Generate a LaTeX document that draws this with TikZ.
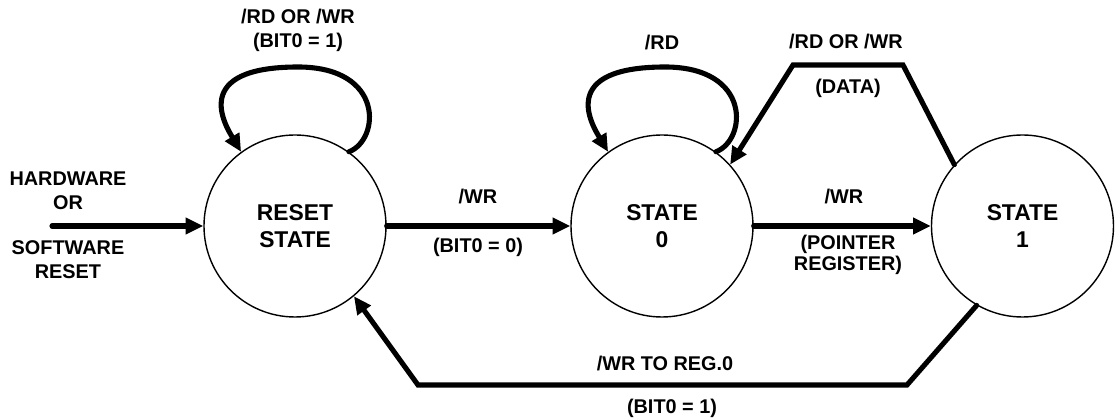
\documentclass[tikz,border=0pt]{standalone}
\usepackage{fontspec}
\setmainfont{Liberation Sans}
\usetikzlibrary{arrows.meta}

\begin{document}
\begin{tikzpicture}[
    state/.style={draw,circle,line width=0.8pt,minimum size=3.64cm,inner sep=0pt,align=center,font=\fontsize{13}{15.5}\selectfont\bfseries},
    lbl/.style={align=center,inner sep=0pt,font=\fontsize{11.3}{13.6}\selectfont\bfseries},
    arrow/.style={-{Triangle[length=10pt,width=9pt]},line width=2.9pt,line cap=round},
    wire/.style={line width=2.9pt,line cap=round}
]
    \useasboundingbox (0,0) rectangle (22.3,8.4);
    % States
    \node[state] (reset) at (5.9,3.88) {RESET\\STATE};
    \node[state] (zero) at (13.24,3.88) {STATE\\0};
    \node[state] (one) at (20.45,3.88) {STATE\\1};
    % Corners of the long connectors
    \coordinate (hwstart) at (1.04,3.88);
    \coordinate (dtr) at (18.06,7.1);
    \coordinate (dtl) at (15.86,7.1);
    \coordinate (brr) at (18.14,0.7);
    \coordinate (brl) at (8.36,0.7);
    % Arrows
    \draw[arrow] (hwstart) -- (reset);
    \draw[arrow] (reset.east) -- (zero.west);
    \draw[arrow] (zero.east) -- (one.west);
    \draw[arrow] (one.138) -- (dtr) -- (dtl) -- (zero.42);
    \draw[arrow] (one.-120) -- (brr) -- (brl) -- (reset.-50);
    % Self loops
    \draw[arrow] (reset.54) .. controls (7.6,5.6) and (7.7,7.06) .. (5.96,7.06)
        .. controls (3.8,7.06) and (4.5,5.9) .. (reset.126);
    \draw[arrow] (zero.54) .. controls (14.94,5.6) and (15.04,7.06) .. (13.3,7.06)
        .. controls (11.14,7.06) and (11.84,5.9) .. (zero.126);
    % Labels
    \node[lbl] (hw) at (1.36,4.59) {HARDWARE\\OR};
    \node[lbl] (sw) at (1.36,3.21) {SOFTWARE\\RESET};
    \node[lbl] (rloop) at (5.96,7.8) {/RD OR /WR\\(BIT0 = 1)};
    \node[lbl] (zloop) at (13.24,7.54) {/RD};
    \node[lbl] (wr0) at (9.56,4.46) {/WR};
    \node[lbl] (bit0) at (9.56,3.46) {(BIT0 = 0)};
    \node[lbl] (wr1) at (16.88,4.46) {/WR};
    \node[lbl,font=\fontsize{11.3}{11.6}\selectfont\bfseries] (ptr) at (16.96,3.3) {(POINTER\\REGISTER)};
    \node[lbl] (rdwr) at (16.92,7.56) {/RD OR /WR};
    \node[lbl] (data) at (16.96,6.64) {(DATA)};
    \node[lbl] (wrreg) at (13.3,1.12) {/WR TO REG.0};
    \node[lbl] (bit1) at (13.44,0.24) {(BIT0 = 1)};
\end{tikzpicture}
\end{document}
